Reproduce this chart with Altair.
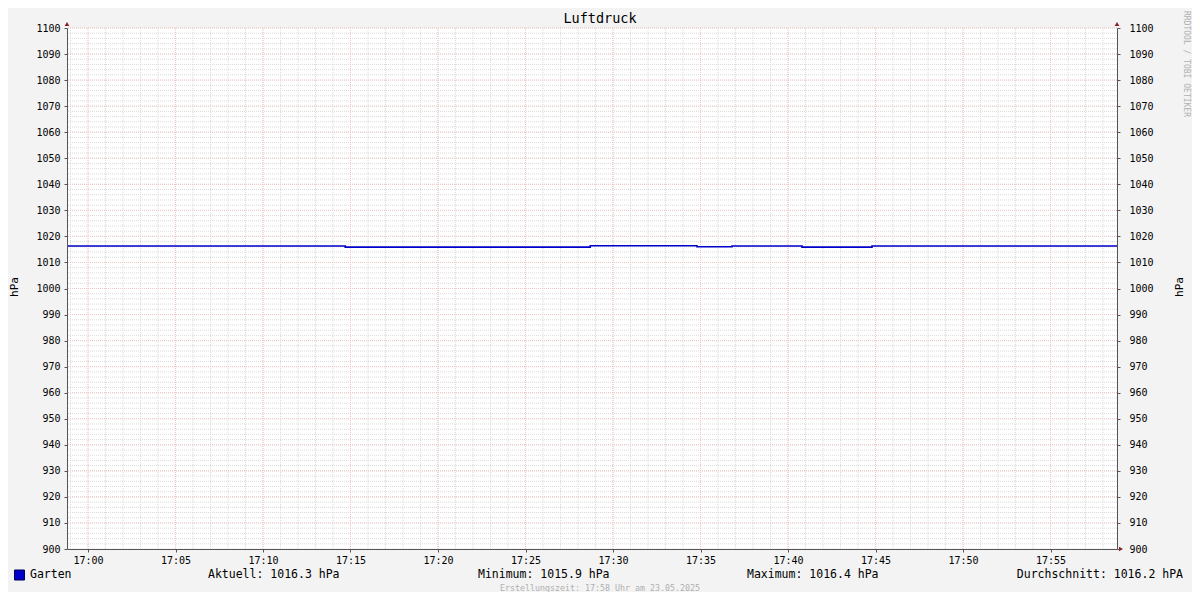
import altair as alt
import pandas as pd

# ---- data ----
# minutes after 17:00 where each step segment starts (last = right edge)
seg_minutes = [-1.2, 14.7, 28.7, 34.8, 36.8, 40.8, 44.8, 58.8]
pressure_hpa = [1016.3, 1015.9, 1016.4, 1016.0, 1016.3, 1015.9, 1016.3, 1016.3]

x_tick_minutes = [0, 5, 10, 15, 20, 25, 30, 35, 40, 45, 50, 55]
y_ticks = list(range(900, 1101, 10))

minor_x = list(range(-1, 59))
major_x = x_tick_minutes
minor_y = list(range(900, 1101, 2))
major_y = y_ticks

title_text = "Luftdruck"
series_name = "Garten"
stat_aktuell = "Aktuell: 1016.3 hPa"
stat_min = "Minimum: 1015.9 hPa"
stat_max = "Maximum: 1016.4 hPa"
stat_avg = "Durchschnitt: 1016.2 hPA"
footer = "Erstellungszeit: 17:58 Uhr am 23.05.2025"
watermark = "RRDTOOL / TOBI OETIKER"

FONT = "DejaVu Sans Mono"
LINE_COLOR = "#0000cc"
ARROW_COLOR = "#8c1c1c"
AXIS_COLOR = "#555555"

xs = alt.Scale(domain=[-1.2, 58.8], nice=False, zero=False)
ys = alt.Scale(domain=[900, 1100], nice=False, zero=False)

x_axis = alt.Axis(
    values=x_tick_minutes,
    labelExpr="'17:' + (datum.value < 10 ? '0' + datum.value : '' + datum.value)",
    title=None,
    grid=False,
    orient="bottom",
    tickSize=3,
    labelPadding=3,
    domainColor=AXIS_COLOR,
    zindex=2,
)

line_df = pd.DataFrame({"m": seg_minutes, "p": pressure_hpa})
dummy = pd.DataFrame({"a": [0]})

minor_vgrid = alt.Chart(pd.DataFrame({"m": minor_x})).mark_rule(
    color="#dadada", strokeWidth=1, strokeDash=[1, 1]
).encode(x=alt.X("m:Q", scale=xs, axis=x_axis))

minor_hgrid = alt.Chart(pd.DataFrame({"p": minor_y})).mark_rule(
    color="#dadada", strokeWidth=1, strokeDash=[1, 1]
).encode(y=alt.Y("p:Q", scale=ys, axis=None))

major_vgrid = alt.Chart(pd.DataFrame({"m": major_x})).mark_rule(
    color="#f0c4c4", strokeWidth=1, strokeDash=[1, 1]
).encode(x=alt.X("m:Q", scale=xs, axis=x_axis))

major_hgrid = alt.Chart(pd.DataFrame({"p": major_y[1:]})).mark_rule(
    color="#f0c4c4", strokeWidth=1, strokeDash=[1, 1]
).encode(
    y=alt.Y(
        "p:Q",
        scale=ys,
        axis=alt.Axis(
            values=y_ticks,
            format="d",
            title=None,
            grid=False,
            orient="left",
            tickSize=3,
            labelPadding=4,
            zindex=2,
        ),
    )
)

line = alt.Chart(line_df).mark_line(
    interpolate="step-after", color=LINE_COLOR, strokeWidth=1.6
).encode(
    x=alt.X("m:Q", scale=xs, axis=x_axis),
    y=alt.Y(
        "p:Q",
        scale=ys,
        axis=alt.Axis(
            values=y_ticks,
            format="d",
            title=None,
            grid=False,
            orient="right",
            tickSize=3,
            labelPadding=9,
            zindex=2,
        ),
    ),
)


def txt(text, x, y, size=11.5, color="black", align="left", angle=0, baseline="middle"):
    kw = dict(font=FONT, fontSize=size, color=color, align=align, baseline=baseline)
    if angle:
        kw["angle"] = angle
    return alt.Chart(dummy).mark_text(**kw).encode(
        x=alt.value(x), y=alt.value(y), text=alt.value(text)
    )


texts = [
    txt(title_text, 533, -9, size=13.5, align="center"),
    txt("hPa", -52, 259, size=11, align="center", angle=270),
    txt("hPa", 1113, 259, size=11, align="center", angle=270),
    txt(watermark, 1119, -17, size=8, color="#b0b0b0", align="left", angle=90),
    txt(series_name, -37, 547),
    txt(stat_aktuell, 141, 547),
    txt(stat_min, 411, 547),
    txt(stat_max, 680, 547),
    txt(stat_avg, 1116, 547, align="right"),
    txt(footer, 533, 561, size=8.3, color="#b0b0b0", align="center"),
]

legend_sq = alt.Chart(dummy).mark_square(
    size=100, fill=LINE_COLOR, stroke="#000044", strokeWidth=1, opacity=1
).encode(x=alt.value(-47.5), y=alt.value(547))

arrows = [
    alt.Chart(dummy).mark_point(shape="triangle-up", size=22, filled=True, color=ARROW_COLOR, opacity=1)
    .encode(x=alt.value(0), y=alt.value(-4)),
    alt.Chart(dummy).mark_point(shape="triangle-up", size=22, filled=True, color=ARROW_COLOR, opacity=1)
    .encode(x=alt.value(1050), y=alt.value(-4)),
    alt.Chart(dummy).mark_point(shape="triangle-right", size=22, filled=True, color=ARROW_COLOR, opacity=1)
    .encode(x=alt.value(1054), y=alt.value(521)),
]

chart = (
    alt.layer(minor_vgrid, minor_hgrid, major_vgrid, major_hgrid, line, legend_sq, *arrows, *texts)
    .resolve_axis(y="independent", x="shared")
    .properties(
        width=1050,
        height=521,
        autosize=alt.AutoSizeParams(type="none"),
        padding={"left": 59, "top": 20, "right": 75, "bottom": 43},
        background="#f3f3f3",
    )
    .configure_view(stroke=None, fill="white")
    .configure_axis(
        domainColor=AXIS_COLOR,
        tickColor=AXIS_COLOR,
        labelFont=FONT,
        labelFontSize=10,
        labelColor="black",
    )
)

chart.save("out.html", embed_options={"renderer": "svg", "actions": False})
